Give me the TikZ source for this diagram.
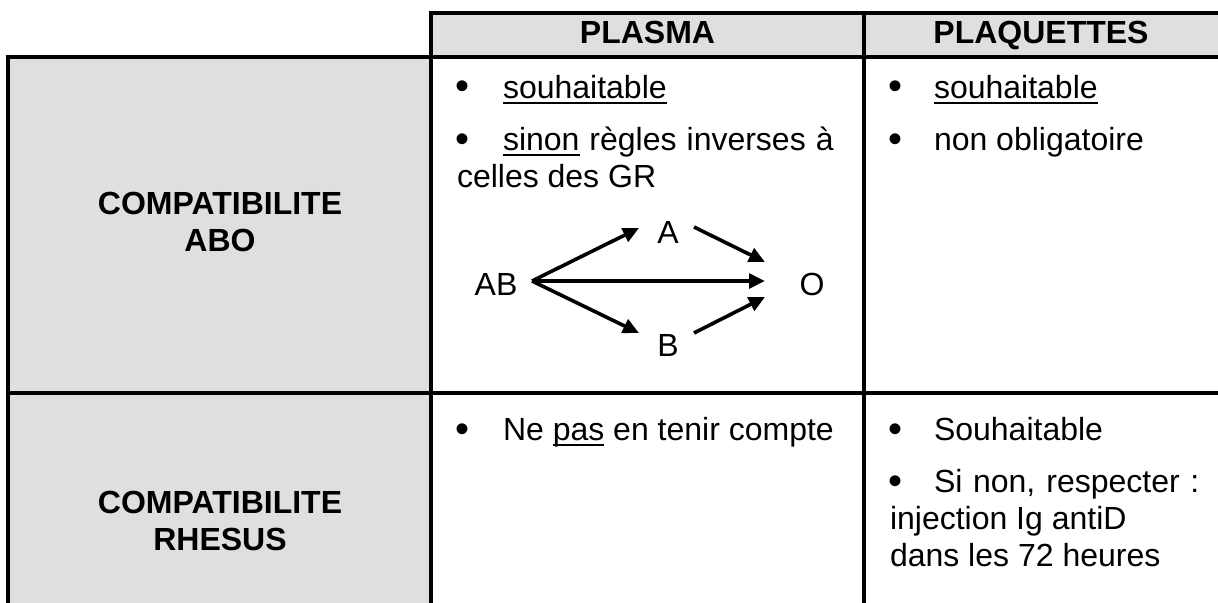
\documentclass[tikz,border=0pt]{standalone}
\usepackage{fontspec}
\setmainfont{Liberation Sans}
\usetikzlibrary{arrows.meta}
\definecolor{cellgray}{RGB}{223,223,223}
\newcommand\myul[1]{\setbox0=\hbox{#1}\rlap{\rule[-4.5pt]{\wd0}{1.6pt}}\box0\relax}
\newcommand\bigbul{{\fontsize{30}{30}\selectfont\raisebox{-1.5pt}{•}}}
\begin{document}
\begin{tikzpicture}[x=0.75pt,y=-0.75pt,
  every node/.style={inner sep=0pt,outer sep=0pt},
  body/.style={anchor=base west,font=\fontsize{24}{28}\selectfont},
  bul/.style={anchor=base west,font=\fontsize{24}{28}\selectfont},
  head/.style={anchor=base,font=\fontsize{24}{28}\selectfont\bfseries},
  rowlbl/.style={align=center,font=\fontsize{24}{27.75}\selectfont\bfseries},
  grp/.style={anchor=center,font=\fontsize{24}{28}\selectfont},
  rulel/.style={line width=2.3pt,line cap=rect},
  flow/.style={line width=2.7pt,-{Triangle[length=12pt,width=11pt]}}
]
\useasboundingbox (0,0) rectangle (1218,603);
% cell fills
\fill[cellgray] (431,13) rectangle (1218,57);
\fill[cellgray] (8,57) rectangle (431,603);
% grid
\draw[rulel] (431,13) -- (1218,13);
\draw[rulel] (8,57) -- (1218,57);
\draw[rulel] (8,393) -- (1218,393);
\draw[rulel] (8,57) -- (8,603);
\draw[rulel] (431,13) -- (431,603);
\draw[rulel] (864,13) -- (864,603);
% headers
\node[head] (hplasma) at (647.5,43) {PLASMA};
\node[head] (hplaq) at (1041,43) {PLAQUETTES};
% row labels
\node[rowlbl] (labo) at (220,222) {COMPATIBILITE\\ABO};
\node[rowlbl] (lrh) at (220,521) {COMPATIBILITE\\RHESUS};
% ABO / plasma
\node[bul] (b1) at (455,98) {\bigbul};
\node[body] (t1) at (503,98) {\myul{souhaitable}};
\node[bul] (b2) at (455,150) {\bigbul};
\node[body] (t2) at (503,150) {\makebox[248pt][s]{\myul{sinon} règles inverses à}};
\node[body] (t3) at (457,187) {celles des GR};
% ABO / plaquettes
\node[bul] (b3) at (888,98) {\bigbul};
\node[body] (t4) at (934,98) {\myul{souhaitable}};
\node[bul] (b4) at (888,150) {\bigbul};
\node[body] (t5) at (934,150) {non obligatoire};
% Rhesus / plasma
\node[bul] (b5) at (455,440) {\bigbul};
\node[body] (t6) at (503,440) {Ne \myul{pas} en tenir compte};
% Rhesus / plaquettes
\node[bul] (b6) at (888,440) {\bigbul};
\node[body] (t7) at (934,440) {Souhaitable};
\node[bul] (b7) at (888,492) {\bigbul};
\node[body] (t8) at (934,492) {\makebox[199pt][s]{Si non, respecter :}};
\node[body] (t9) at (890,529) {injection Ig antiD};
\node[body] (t10) at (890,566) {dans les 72 heures};
% group diagram
\node[grp] (AB) at (496,284) {AB};
\node[grp] (A) at (668,232) {A};
\node[grp] (B) at (668,345) {B};
\node[grp] (O) at (812,284) {O};
\coordinate (ABr) at (532,281);
\coordinate (Ain) at (639,228);
\coordinate (Aout) at (694,227);
\coordinate (Bin) at (639,333);
\coordinate (Bout) at (694,333);
\coordinate (Oa) at (765,262);
\coordinate (Om) at (765,281);
\coordinate (Ob) at (765,297);
\draw[flow] (ABr) -- (Ain);
\draw[flow] (ABr) -- (Om);
\draw[flow] (ABr) -- (Bin);
\draw[flow] (Aout) -- (Oa);
\draw[flow] (Bout) -- (Ob);
\end{tikzpicture}
\end{document}
